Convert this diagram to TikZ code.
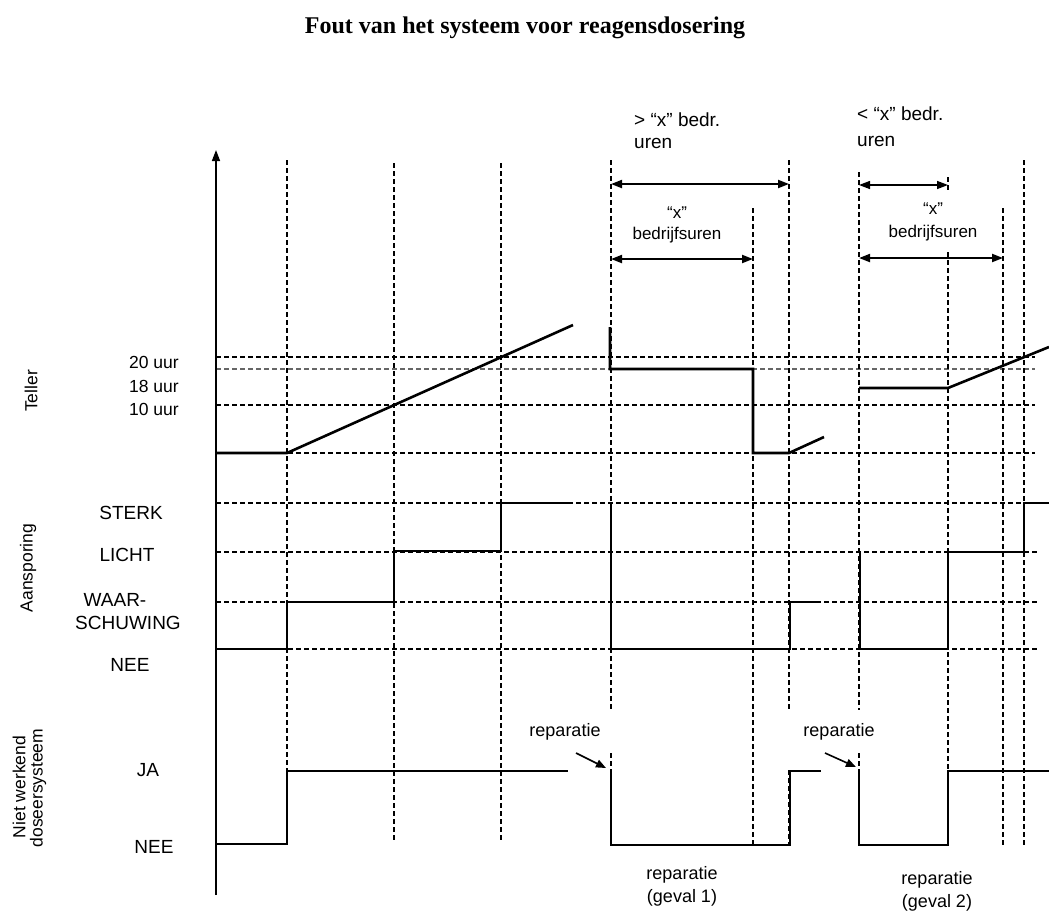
\documentclass[tikz,border=0pt]{standalone}
\usepackage{fontspec}
\setmainfont{Liberation Serif}
\newfontfamily\sansf{Liberation Sans}
\usetikzlibrary{arrows.meta}
\begin{document}
\begin{tikzpicture}[x=1pt,y=-1pt,
  gridline/.style={line width=1.1pt, dash pattern=on 4.5pt off 3.5pt},
  sig/.style={line width=2.6pt, line join=miter},
  dim/.style={line width=2pt, {Triangle[length=11pt,width=8pt]}-{Triangle[length=11pt,width=8pt]}},
  dimthin/.style={line width=1.4pt, {Triangle[length=11pt,width=8pt]}-{Triangle[length=11pt,width=8pt]}},
  reparrow/.style={line width=1.6pt, -{Triangle[length=10pt,width=8pt]}},
  lvl/.style={font=\sansf\fontsize{19}{22}\selectfont, inner sep=0pt},
  uur/.style={font=\sansf\fontsize{17.5}{20}\selectfont, inner sep=0pt, anchor=east},
  axlbl/.style={font=\sansf\fontsize{17.5}{20}\selectfont, inner sep=0pt, rotate=90},
  toplbl/.style={font=\sansf\fontsize{19}{22}\selectfont, inner sep=0pt, anchor=west},
  small/.style={font=\sansf\fontsize{17}{20}\selectfont, inner sep=0pt},
  rep/.style={font=\sansf\fontsize{18}{21}\selectfont, inner sep=0pt}]
\useasboundingbox[fill=white] (0,0) rectangle (1049,911);

% title
\node[font=\bfseries\fontsize{24}{28}\selectfont, anchor=base] (title) at (525,33) {Fout van het systeem voor reagensdosering};

% horizontal grid lines
\draw[gridline] (216,357) -- (1035,357);
\draw[gridline, black!60] (216,369) -- (1035,369);
\draw[gridline] (216,405) -- (1035,405);
\draw[gridline] (216,453) -- (1035,453);
\draw[gridline] (216,503) -- (1037,503);
\draw[gridline] (216,552) -- (1037,552);
\draw[gridline] (216,602) -- (1037,602);
\draw[gridline] (216,649) -- (1037,649);

% vertical grid lines
\draw[gridline] (287,160) -- (287,771);
\draw[gridline] (394,163) -- (394,842);
\draw[gridline] (501,163) -- (501,842);
\draw[gridline] (611,160) -- (611,710) (611,753) -- (611,771);
\draw[gridline] (753,208) -- (753,845);
\draw[gridline] (789,160) -- (789,710) (789,770) -- (789,845);
\draw[gridline] (859,172) -- (859,710) (859,753) -- (859,771);
\draw[gridline] (948,177) -- (948,191) (948,252) -- (948,845);
\draw[gridline] (1003,208) -- (1003,845);
\draw[gridline] (1024,160) -- (1024,845);

% axis
\coordinate (axb) at (216,895);
\coordinate (axt) at (216,150);
\draw[line width=1.5pt, -{Triangle[length=11pt,width=8pt]}] (axb) -- (axt);

% Teller signal
\draw[sig] (216,453) -- (287,453) -- (573,325);
\draw[sig] (610,327) -- (610,369) -- (753,369) -- (753,453) -- (789,453) -- (824,437);
\draw[sig] (859,388) -- (948,388) -- (1049,347);

% Aansporing signal
\draw[sig] (216,649) -- (287,649) -- (287,602) -- (394,602) -- (394,551) -- (501,551) -- (501,503) -- (573,503);
\draw[sig] (611,503) -- (611,649) -- (790,649) -- (790,602) -- (817,602);
\draw[sig] (860,552) -- (860,649) -- (948,649) -- (948,552) -- (1024,552) -- (1024,503) -- (1049,503);

% Niet werkend doseersysteem signal
\draw[sig] (216,844) -- (287,844) -- (287,771) -- (568,771);
\draw[sig] (611,771) -- (611,845) -- (790,845) -- (790,771) -- (821,771);
\draw[sig] (859,771) -- (859,845) -- (948,845) -- (948,771) -- (1049,771);

% dimension arrows
\coordinate (d1a) at (611,184); \coordinate (d1b) at (789,184);
\coordinate (d2a) at (611,259); \coordinate (d2b) at (753,259);
\coordinate (d3a) at (859,185); \coordinate (d3b) at (948,185);
\coordinate (d4a) at (859,258); \coordinate (d4b) at (1003,258);
\draw[dim] (d1a) -- (d1b);
\draw[dim] (d2a) -- (d2b);
\draw[dimthin] (d3a) -- (d3b);
\draw[dim] (d4a) -- (d4b);

% repair arrows
\coordinate (r1a) at (576,753); \coordinate (r1b) at (606,768);
\coordinate (r2a) at (825,753); \coordinate (r2b) at (856,767);
\draw[reparrow] (r1a) -- (r1b);
\draw[reparrow] (r2a) -- (r2b);

% axis labels
\node[axlbl] (tel) at (31,391) {Teller};
\node[axlbl] (aan) at (28,568) {Aansporing};
\node[axlbl] (nw1) at (19,787) {Niet werkend};
\node[axlbl] (nw2) at (38,788) {doseersysteem};

% level labels
\node[uur] (u20) at (179,362) {20 uur};
\node[uur] (u18) at (179,386) {18 uur};
\node[uur] (u10) at (179,409) {10 uur};
\node[lvl] (sterk) at (131,513) {STERK};
\node[lvl] (licht) at (127,555) {LICHT};
\node[lvl] (waar) at (115,600) {WAAR-};
\node[lvl] (schuw) at (128,623) {SCHUWING};
\node[lvl] (nee1) at (130,665) {NEE};
\node[lvl] (ja) at (148,770) {JA};
\node[lvl] (nee2) at (154,847) {NEE};

% top labels
\node[toplbl] (gt1) at (634,120) {> “x” bedr.};
\node[toplbl] (gt2) at (634,143) {uren};
\node[toplbl] (lt1) at (857,114) {< “x” bedr.};
\node[toplbl] (lt2) at (857,141) {uren};
\node[small] (x1) at (677,213) {“x”};
\node[small] (b1) at (677,235) {bedrijfsuren};
\node[small] (x2) at (933,209) {“x”};
\node[small] (b2) at (933,233) {bedrijfsuren};

% repair labels
\node[rep] (rp1) at (565,732) {reparatie};
\node[rep] (rp2) at (839,732) {reparatie};
\node[rep] (g1a) at (682,875) {reparatie};
\node[rep] (g1b) at (682,898) {(geval 1)};
\node[rep] (g2a) at (937,880) {reparatie};
\node[rep] (g2b) at (937,903) {(geval 2)};
\end{tikzpicture}
\end{document}
